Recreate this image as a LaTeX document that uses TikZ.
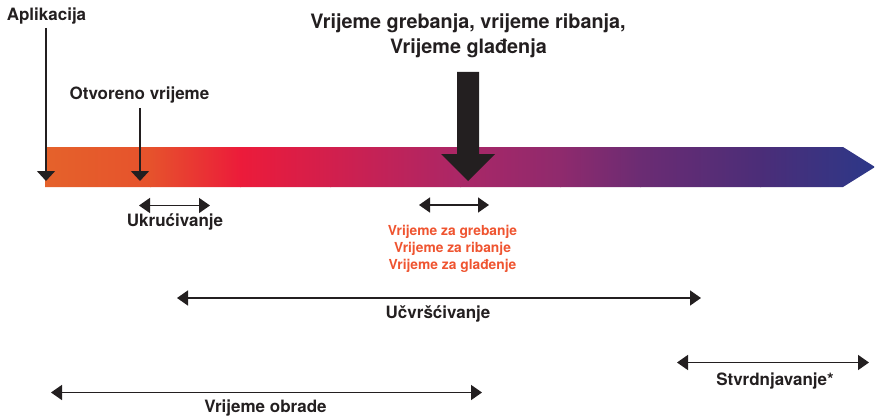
\documentclass[tikz,border=0pt]{standalone}
\usepackage{fontspec}
\setmainfont{TeX Gyre Heros}
\usetikzlibrary{arrows.meta}
\definecolor{ink}{HTML}{231F20}
\definecolor{txtorange}{HTML}{EF5430}
\definecolor{g1}{HTML}{E5622B}
\definecolor{g2}{HTML}{E6522C}
\definecolor{g3}{HTML}{EC1B3A}
\definecolor{g4}{HTML}{D21F4D}
\definecolor{g5}{HTML}{AA2767}
\definecolor{g6}{HTML}{8F2A6D}
\definecolor{g7}{HTML}{6B2C73}
\definecolor{g8}{HTML}{4B2D78}
\definecolor{g9}{HTML}{2C3888}
\tikzset{
  lbl/.style={font=\fontsize{17}{20}\selectfont\bfseries, text=ink, inner sep=0pt, anchor=base},
  ttl/.style={font=\fontsize{19.8}{24}\selectfont\bfseries, text=ink, inner sep=0pt, anchor=base},
  olbl/.style={font=\fontsize{13.8}{17}\selectfont\bfseries, text=txtorange, inner sep=0pt, anchor=north, align=center},
  dimarrow/.style={draw=ink, line width=1.6pt, {Triangle[length=11pt,width=15pt]}-{Triangle[length=11pt,width=15pt]}},
  downarrow/.style={draw=ink, line width=1.6pt, -{Triangle[length=10pt,width=18pt]}},
}
\begin{document}
\begin{tikzpicture}[x=1pt,y=-1pt]
\useasboundingbox (0,0) rectangle (875,417);
% gradient bar
\begin{scope}
  \clip (45,147) -- (843,147) -- (875,167) -- (843,187) -- (45,187) -- cycle;
  \shade[left color=g1,right color=g2] (44,146) rectangle (151,188);
  \shade[left color=g2,right color=g3] (150,146) rectangle (241,188);
  \shade[left color=g3,right color=g4] (240,146) rectangle (331,188);
  \shade[left color=g4,right color=g5] (330,146) rectangle (461,188);
  \shade[left color=g5,right color=g6] (460,146) rectangle (561,188);
  \shade[left color=g6,right color=g7] (560,146) rectangle (641,188);
  \shade[left color=g7,right color=g8] (640,146) rectangle (761,188);
  \shade[left color=g8,right color=g9] (760,146) rectangle (876,188);
\end{scope}
% labels with down arrows
\node[lbl] (apl) at (46.5,21) {Aplikacija};
\coordinate (aplend) at (46,181);
\draw[downarrow] (46,28) -- (aplend);
\node[lbl] (otv) at (139.5,100) {Otvoreno vrijeme};
\coordinate (otvend) at (140,181);
\draw[downarrow] (140,108) -- (otvend);
% title and big arrow
\node[ttl] (t1) at (468,29) {Vrijeme grebanja, vrijeme ribanja,};
\node[ttl] (t2) at (468.5,53.5) {Vrijeme glađenja};
\fill[ink] (457,72) -- (479,72) -- (479,154) -- (495,154) -- (468,181) -- (441,154) -- (457,154) -- cycle;
% Ukrucivanje
\coordinate (uk1) at (139,205.5);
\coordinate (uk2) at (210,205.5);
\draw[dimarrow] (uk1) -- (uk2);
\node[lbl] (uk) at (175,226.5) {Ukrućivanje};
% scratch times
\coordinate (sc1) at (419,205);
\coordinate (sc2) at (489,205);
\draw[dimarrow] (sc1) -- (sc2);
\node[olbl] (sc) at (452.5,225.3) {Vrijeme za grebanje\\Vrijeme za ribanje\\Vrijeme za glađenje};
% Ucvrscivanje
\coordinate (uc1) at (177,298);
\coordinate (uc2) at (701,298);
\draw[dimarrow] (uc1) -- (uc2);
\node[lbl] (uc) at (438,318) {Učvršćivanje};
% Stvrdnjavanje
\coordinate (st1) at (677,362.5);
\coordinate (st2) at (869,362.5);
\draw[dimarrow] (st1) -- (st2);
\node[lbl] (st) at (775,385) {Stvrdnjavanje*};
% Vrijeme obrade
\coordinate (vo1) at (51,392.5);
\coordinate (vo2) at (482,392.5);
\draw[dimarrow] (vo1) -- (vo2);
\node[lbl] (vo) at (265.5,412.5) {Vrijeme obrade};
\end{tikzpicture}
\end{document}
